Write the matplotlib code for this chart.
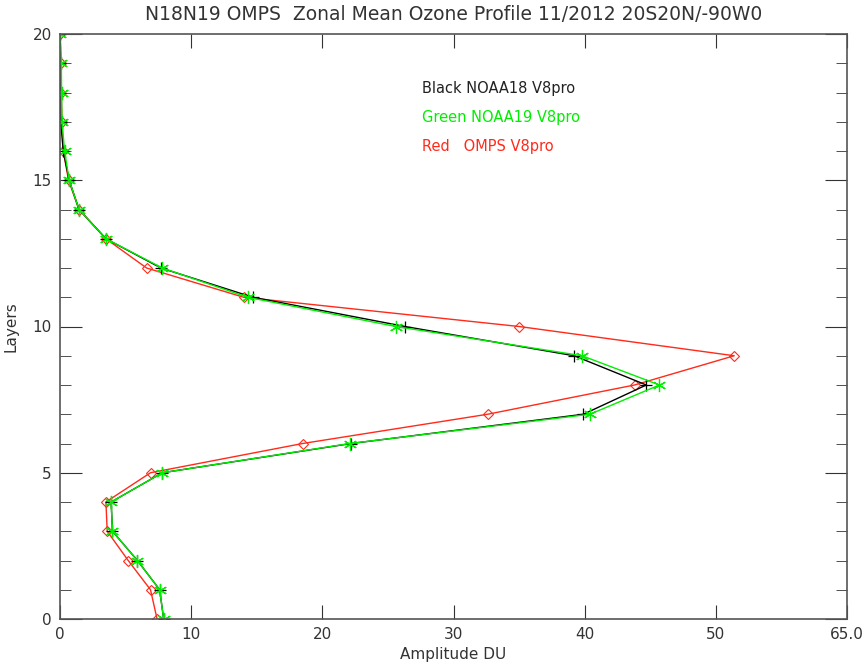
import matplotlib.pyplot as plt
import numpy as np

layers = np.arange(0, 21)

# NOAA18 V8pro (black)
noaa18 = [7.9, 7.6, 5.9, 4.0, 3.9, 7.8, 22.2, 39.9, 44.7, 39.2, 26.3,
          14.7, 7.7, 3.5, 1.45, 0.7, 0.25, 0.05, 0.02, 0.0, 0.0]
# NOAA19 V8pro (green)
noaa19 = [7.9, 7.6, 5.9, 4.0, 3.9, 7.8, 22.1, 40.4, 45.7, 39.8, 25.6,
          14.3, 7.8, 3.5, 1.45, 0.7, 0.35, 0.15, 0.12, 0.1, 0.0]
# OMPS V8pro (red)
omps = [7.4, 6.9, 5.2, 3.6, 3.5, 6.9, 18.5, 32.6, 43.8, 51.4, 35.0,
        14.0, 6.6, 3.5, 1.45, 0.65, 0.25, 0.15, 0.1, 0.1, 0.0]

xticks = [0, 10, 20, 30, 40, 50, 60]
xticklabels = ['0', '10', '20', '30', '40', '50', '65.0']
yticks = [0, 5, 10, 15, 20]

fig = plt.figure(figsize=(8.66, 6.63), dpi=100)
ax = fig.add_axes([60/866, 1 - 619/663, 787/866, 585/663])

ax.plot(omps, layers, color='#ff2a1a', lw=1, marker='D', ms=5.5,
        mfc='none', mec='#ff2a1a', mew=0.8)
ax.plot(noaa18, layers, color='black', lw=1, marker='+', ms=9, mew=0.9)
ax.plot(noaa19, layers, color='#00ee00', lw=1, marker=(6, 2, 0), ms=9.5,
        mew=0.9, mec='#00ee00')

ax.set_xlim(0, 60)
ax.set_ylim(0, 20)
ax.set_xticks(xticks)
ax.set_xticklabels(xticklabels)
ax.set_yticks(yticks)
ax.set_yticks(np.arange(0, 21, 1), minor=True)

ax.tick_params(axis='both', which='major', direction='in', top=True, right=True,
               labelsize=11, colors='#333333', pad=6)
ax.tick_params(axis='x', which='major', length=10)
ax.tick_params(axis='y', which='major', length=16)
ax.tick_params(axis='y', which='minor', direction='in', length=8, right=True,
               color='#333333')
for s in ax.spines.values():
    s.set_color('#555555')
    s.set_linewidth(1.2)

ax.set_xlabel('Amplitude DU', fontsize=11, color='#333333', labelpad=3)
ax.set_ylabel('Layers', fontsize=11, color='#333333', labelpad=10)
ax.set_title('N18N19 OMPS  Zonal Mean Ozone Profile 11/2012 20S20N/-90W0',
             fontsize=13.5, color='#333333', pad=10)

ax.text(27.6, 18.15, 'Black NOAA18 V8pro', color='#222222', fontsize=10.5, va='center')
ax.text(27.6, 17.15, 'Green NOAA19 V8pro', color='#00ee00', fontsize=10.5, va='center')
ax.text(27.6, 16.15, 'Red   OMPS V8pro', color='#ff2a1a', fontsize=10.5, va='center')

fig.savefig('out.png', dpi=100)
